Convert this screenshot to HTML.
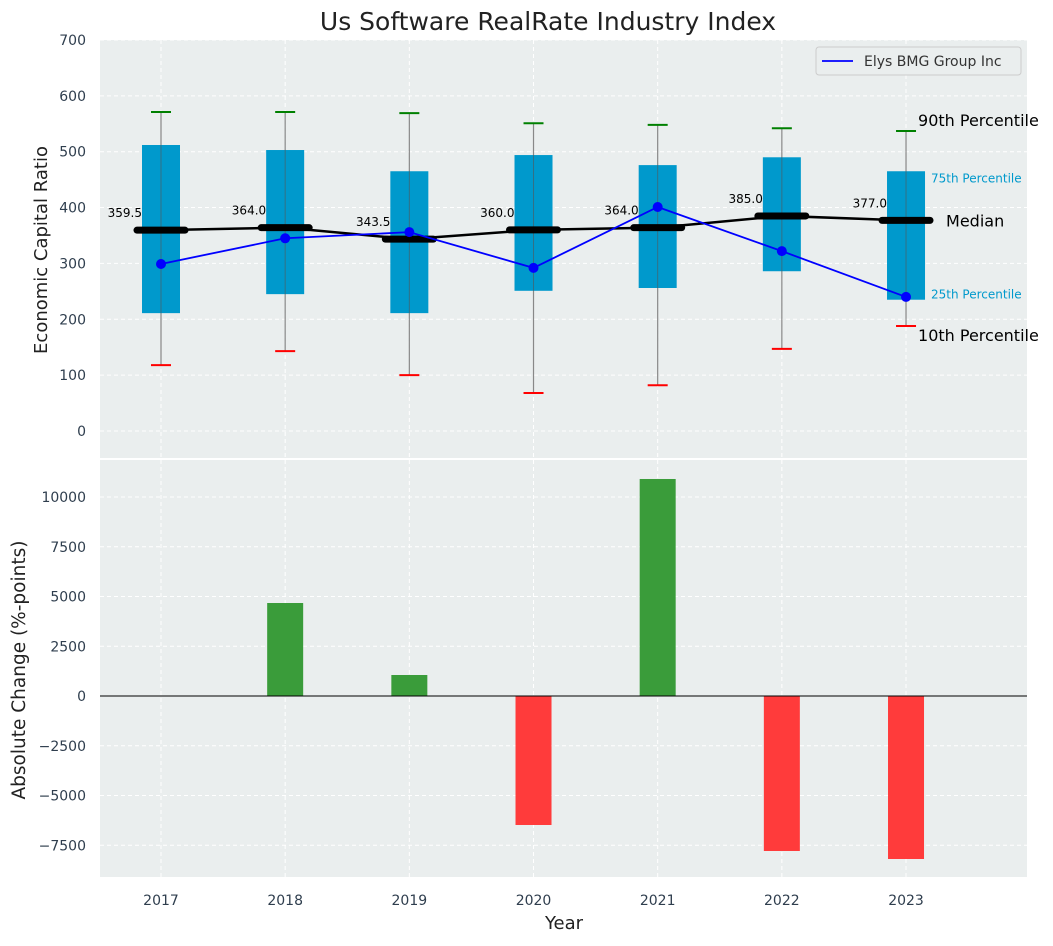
<!DOCTYPE html>
<html><head><meta charset="utf-8"><style>
body{margin:0;background:#fff;font-family:"DejaVu Sans","Liberation Sans",sans-serif}
svg text{font-family:"DejaVu Sans","Liberation Sans",sans-serif}
</style></head><body>
<svg id="c" width="1053" height="942" xmlns="http://www.w3.org/2000/svg"></svg>
<script>
const years=[2017,2018,2019,2020,2021,2022,2023];
const p10=[118,143,100,68,82,147,188];
const p25=[211,245,211,251,256,286,235];
const median=[359.5,364.0,343.5,360.0,364.0,385.0,377.0];
const p75=[512,503,465,494,476,490,465];
const p90=[571,571,569,551,548,542,537];
const company=[299,345,356,292,401,322,240];
const changes=[0,4673,1055,-6482,10905,-7789,-8191];
const topTicks=[0,100,200,300,400,500,600,700];
const botTicks=[-7500,-5000,-2500,0,2500,5000,7500,10000];

const NS="http://www.w3.org/2000/svg";
const svg=document.getElementById('c');
function el(t,a,txt){const e=document.createElementNS(NS,t);for(const k in a)e.setAttribute(k,a[k]);if(txt!==undefined)e.textContent=txt;svg.appendChild(e);return e;}
const L=100,R=1027;
const xs=i=>161+i*124.17;
const yT=v=>431-v*0.5586;
const yB=v=>696-v*0.0199;

let e=el('rect',{x:L,y:40,width:R-L,height:418,fill:'#eaeeee'});

e=el('rect',{x:L,y:460,width:R-L,height:417,fill:'#eaeeee'});


topTicks.forEach(t=>{const y=yT(t);
 e=el('line',{x1:L,x2:R,y1:y,y2:y,stroke:'#fff','stroke-dasharray':'4,3','stroke-width':1});
 
 e=el('text',{x:86,y:y+5,'text-anchor':'end','font-size':14,fill:'#2f3e4e'},t);
 });
botTicks.forEach(t=>{const y=yB(t);
 e=el('line',{x1:L,x2:R,y1:y,y2:y,stroke:'#fff','stroke-dasharray':'4,3','stroke-width':1});
 
 e=el('text',{x:86,y:y+5,'text-anchor':'end','font-size':14,fill:'#2f3e4e'},t==0?'0':(t<0?'\u2212'+(-t):t));
 });
years.forEach((yr,i)=>{const x=xs(i);
 [[40,458],[460,877]].forEach(r=>{e=el('line',{x1:x,x2:x,y1:r[0],y2:r[1],stroke:'#fff','stroke-dasharray':'4,3'});
 });
 e=el('text',{x:x,y:905,'text-anchor':'middle','font-size':14,fill:'#2f3e4e'},yr);
 });

years.forEach((yr,i)=>{const x=xs(i);
 e=el('line',{x1:x,x2:x,y1:yT(p90[i]),y2:yT(p10[i]),stroke:'#888','stroke-width':1.2});
 
 e=el('rect',{x:x-19,y:yT(p75[i]),width:38,height:yT(p25[i])-yT(p75[i]),fill:'#0099cc'});
 
 e=el('line',{x1:x,x2:x,y1:yT(p75[i]),y2:yT(p25[i]),stroke:'#555','stroke-width':1,opacity:0.6});
 
 e=el('line',{x1:x-10,x2:x+10,y1:yT(p90[i]),y2:yT(p90[i]),stroke:'green','stroke-width':2});
 
 e=el('line',{x1:x-10,x2:x+10,y1:yT(p10[i]),y2:yT(p10[i]),stroke:'red','stroke-width':2});
 
});
e=el('polyline',{points:median.map((m,i)=>xs(i)+','+yT(m)).join(' '),fill:'none',stroke:'#000','stroke-width':2.5});

median.forEach((m,i)=>{const x=xs(i);
 e=el('line',{x1:x-24,x2:x+24,y1:yT(m),y2:yT(m),stroke:'#000','stroke-width':7,'stroke-linecap':'round'});
 
 e=el('text',{x:x-19,y:yT(m)-13,'text-anchor':'end','font-size':12,fill:'#000'},m.toFixed(1));
 });
e=el('polyline',{points:company.map((c,i)=>xs(i)+','+yT(c)).join(' '),fill:'none',stroke:'blue','stroke-width':1.8});

company.forEach((c,i)=>{e=el('circle',{cx:xs(i),cy:yT(c),r:5,fill:'blue'});
 });
const li=years.length-1,lx=xs(li);
[['90th Percentile',p90[li],12,16,'#000',-5],['75th Percentile',p75[li],25,12,'#0099cc',11],['Median',median[li],40,16,'#000',6],['25th Percentile',p25[li],25,12,'#0099cc',-1],['10th Percentile',p10[li],12,16,'#000',15]].forEach(a=>{
 e=el('text',{x:lx+a[2],y:yT(a[1])+a[5],'font-size':a[3],fill:a[4]},a[0]);
 });
e=el('rect',{x:816,y:47,width:205,height:28,rx:3,fill:'#eaeeee',stroke:'#ccc'});

e=el('line',{x1:822,x2:853,y1:61,y2:61,stroke:'blue','stroke-width':1.8});

e=el('text',{x:864,y:66,'font-size':14,fill:'#333'},'Elys BMG Group Inc');


changes.forEach((v,i)=>{const x=xs(i);const y0=yB(0),y1=yB(v);
 e=el('rect',{x:x-18,y:Math.min(y0,y1),width:36,height:Math.abs(y1-y0),fill:v>=0?'#3a9c3a':'#ff3b3b'});
 });
e=el('line',{x1:L,x2:R,y1:yB(0),y2:yB(0),stroke:'#000','stroke-width':1});


e=el('text',{x:548,y:30,'text-anchor':'middle','font-size':25,fill:'#222'},'Us Software RealRate Industry Index');

e=el('text',{x:0,y:0,'text-anchor':'middle','font-size':18,fill:'#222',transform:'translate(47,250) rotate(-90)'},'Economic Capital Ratio');

e=el('text',{x:0,y:0,'text-anchor':'middle','font-size':18.5,fill:'#222',transform:'translate(25,670) rotate(-90)'},'Absolute Change (%-points)');

e=el('text',{x:564,y:929,'text-anchor':'middle','font-size':18,fill:'#222'},'Year');

</script>
</body></html>
